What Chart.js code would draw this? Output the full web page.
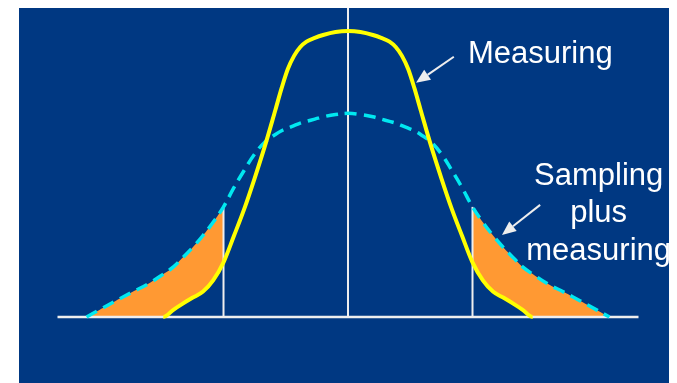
<!DOCTYPE html>
<html>
<head>
<meta charset="utf-8">
<script src="https://cdn.jsdelivr.net/npm/chart.js@4/dist/chart.umd.min.js"></script>
<style>
  html, body { margin: 0; padding: 0; background: #fff; }
  #wrap { position: absolute; left: 19px; top: 8px; width: 650px; height: 375px; background: #003882; }
</style>
</head>
<body>
<div id="wrap"><canvas id="chart"></canvas></div>
<script>
// shared x grid (spread units, 0 = mean)
const xs = [-7, -6.3, -6, -5.6, -5.2, -4.8, -4.45, -4.2, -4, -3.75, -3.5, -3.25, -3, -2.75, -2.5, -2.25, -2, -1.75, -1.6, -1.45, -1.3, -1.15, -1, -0.8, -0.6, -0.3, 0,
  0.3, 0.6, 0.8, 1, 1.15, 1.3, 1.45, 1.6, 1.75, 2, 2.25, 2.5, 2.75, 3, 3.25, 3.5, 3.75, 4, 4.2, 4.45, 4.8, 5.2, 5.6, 6, 6.3, 7]

// measuring only (solid yellow)
const measuring = [0, 0, 0, 0, 0, 0, 0, 2.6, 4.5, 6.7, 8.8, 12.8, 19.1, 28.3, 37.8, 48.5, 59.9, 72.4, 80, 86.7, 91.3, 94.4, 96.3, 97.6, 98.6, 99.65, 100,
  99.65, 98.6, 97.6, 96.3, 94.4, 91.3, 86.7, 80, 72.4, 59.9, 48.5, 37.8, 28.3, 19.1, 12.8, 8.8, 6.7, 4.5, 2.6, 0, 0, 0, 0, 0, 0, 0]

// sampling plus measuring (dashed cyan)
const sampling = [null, 0, 2.4, 5.6, 8.7, 11.7, 15, 17.6, 20.5, 24.2, 28.4, 33.1, 38.5, 45.2, 51.3, 57, 61.2, 63.8, 65.1, 66, 66.9, 67.8, 68.4, 69.2, 70, 70.8, 71.2,
  70.8, 70, 69.2, 68.4, 67.8, 66.9, 66, 65.1, 63.8, 61.2, 57, 51.3, 45.2, 38.5, 33.1, 28.4, 24.2, 20.5, 17.6, 15, 11.7, 8.7, 5.6, 2.4, 0, null]

// vertical guide lines and baseline
const guideX = [-3, 0, 3]
const guideTop = [38.5, 108, 38.5]
const baseRange = [-7, 7]
const limit = 3

const YELLOW = "#ffff00"
const CYAN = "#00e8f0"
const ORANGE = "#ff9933"
const WHITE = "#eeeeee"

const pts = (ys) => xs.map((x, i) => ({ x: x, y: ys[i] }))
const tails = sampling.map((v, i) => (Math.abs(xs[i]) >= limit ? v : null))

const notes = [
  { lines: ["Measuring"], x: 2.89, y: 88.9, align: "left" },
  { lines: ["Sampling", "plus", "measuring"], x: 6.04, y: 46.2, align: "center" }
]
const arrows = [
  { from: [2.55, 91.0], to: [1.64, 81.9] },
  { from: [4.63, 39.2], to: [3.71, 28.7] }
]

const annotate = {
  id: "annotate",
  afterDatasetsDraw(chart) {
    const { ctx, scales: { x, y } } = chart
    ctx.save()
    ctx.fillStyle = "#ffffff"
    ctx.font = "31px 'Liberation Sans', Arial, sans-serif"
    ctx.textBaseline = "alphabetic"
    notes.forEach(n => {
      ctx.textAlign = n.align
      n.lines.forEach((t, i) => {
        ctx.fillText(t, x.getPixelForValue(n.x), y.getPixelForValue(n.y) + i * 37.5)
      })
    })
    ctx.strokeStyle = "#eeeeee"
    ctx.fillStyle = "#eeeeee"
    ctx.lineWidth = 2
    arrows.forEach(a => {
      const x0 = x.getPixelForValue(a.from[0]), y0 = y.getPixelForValue(a.from[1])
      const x1 = x.getPixelForValue(a.to[0]), y1 = y.getPixelForValue(a.to[1])
      const ang = Math.atan2(y1 - y0, x1 - x0)
      const head = 14, half = 6
      const bx = x1 - head * Math.cos(ang), by = y1 - head * Math.sin(ang)
      ctx.beginPath()
      ctx.moveTo(x0, y0)
      ctx.lineTo(bx, by)
      ctx.stroke()
      ctx.beginPath()
      ctx.moveTo(x1, y1)
      ctx.lineTo(bx + half * Math.sin(ang), by - half * Math.cos(ang))
      ctx.lineTo(bx - half * Math.sin(ang), by + half * Math.cos(ang))
      ctx.closePath()
      ctx.fill()
    })
    ctx.restore()
  }
}

const guides = guideX.map((gx, i) => ({
  label: "guide" + i,
  data: [{ x: gx, y: 0 }, { x: gx, y: guideTop[i] }],
  borderColor: WHITE,
  borderWidth: 2,
  pointRadius: 0,
  tension: 0,
  fill: false
}))

new Chart(document.getElementById("chart"), {
  type: "line",
  data: {
    datasets: [
      {
        label: "Measuring",
        data: pts(measuring),
        borderColor: YELLOW,
        borderWidth: 4,
        pointRadius: 0,
        cubicInterpolationMode: "monotone",
        fill: false,
        segment: {
          borderColor: (c) => (c.p0.parsed.y === 0 && c.p1.parsed.y === 0 ? "rgba(0,0,0,0)" : YELLOW)
        }
      },
      {
        label: "Sampling plus measuring",
        data: pts(sampling),
        borderColor: CYAN,
        borderWidth: 3.5,
        borderDash: [12, 7],
        pointRadius: 0,
        tension: 0.4,
        fill: false
      },
      ...guides,
      {
        label: "baseline",
        data: [{ x: baseRange[0], y: 0 }, { x: baseRange[1], y: 0 }],
        borderColor: WHITE,
        borderWidth: 2.5,
        pointRadius: 0,
        tension: 0,
        fill: false
      },
      {
        label: "tails",
        data: pts(tails),
        borderWidth: 0,
        borderColor: "rgba(0,0,0,0)",
        backgroundColor: ORANGE,
        pointRadius: 0,
        tension: 0.4,
        spanGaps: false,
        fill: { target: 7 }
      },
      {
        // unstyled copy of the measuring curve, used as the lower edge of the tails
        label: "floor",
        data: pts(measuring),
        borderWidth: 0,
        borderColor: "rgba(0,0,0,0)",
        pointRadius: 0,
        cubicInterpolationMode: "monotone",
        fill: false
      }
    ]
  },
  options: {
    responsive: true,
    maintainAspectRatio: false,
    animation: false,
    layout: { padding: 0 },
    scales: {
      x: { type: "linear", min: -7.928, max: 7.735, display: false },
      y: { min: -23.08, max: 108.04, display: false }
    },
    plugins: {
      legend: { display: false },
      tooltip: { enabled: false }
    }
  },
  plugins: [annotate]
})
</script>
</body>
</html>
